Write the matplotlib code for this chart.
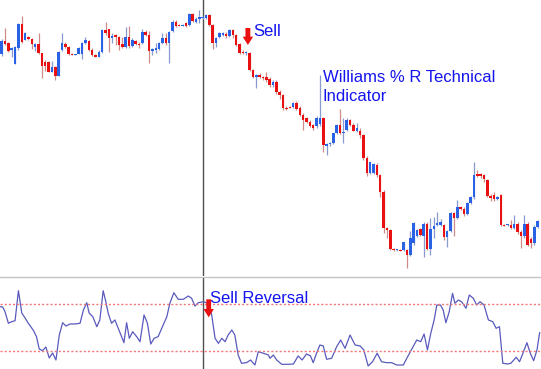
import numpy as np
import matplotlib
matplotlib.use('Agg')
import matplotlib.pyplot as plt

# candles, as distance down from the top edge (px)
opens = [54, 41, 43, 50, 64, 48, 24, 40, 37, 39, 47, 44, 53, 62, 62, 72, 67, 76, 50, 44,
         47, 54, 54.5, 54, 54, 43, 41, 50, 55, 57, 52, 30, 29, 38, 35, 37, 44, 47, 37, 46,
         41, 44, 43, 32, 35, 51, 50, 49, 43, 38, 43, 31, 22, 25, 25.5, 23, 25, 14, 22, 19,
         18, 18, 15, 25, 43, 37, 35, 34, 36, 30, 35, 44, 52, 53, 53, 70, 77, 75, 77, 77,
         79, 85, 82, 92, 95, 108, 107, 107, 103, 108, 115, 118, 122, 125, 126, 124, 118, 146, 144, 143,
         133, 125, 133, 130, 120, 125, 131, 131, 135, 158, 173, 173, 165, 175, 192, 228, 230, 249, 250, 250,
         250, 250, 255, 243, 236, 229, 236, 224, 249, 229, 225, 225, 225, 237, 231, 213, 218, 207, 209, 214,
         203, 197, 174, 174, 175, 180, 196, 195, 199, 195, 225, 225, 225, 228, 224, 232, 236, 224, 239, 243,
         227]
highs = [39, 28, 42, 47, 46, 23, 16, 32, 36, 38, 43, 33, 53, 60, 61, 61, 66, 51, 33, 42,
         46, 53, 54, 47, 42, 37, 40, 48, 54, 50, 29, 22, 29, 33, 34, 36, 37, 27, 26, 38,
         40, 42, 29, 30, 31, 48, 43, 42, 33, 33, 31, 20, 20, 24, 24, 22, 13, 13, 17, 10,
         16, 14, 14, 24, 37, 32, 32, 32, 29, 29, 34, 43, 50, 51, 52, 69, 74, 73, 76, 72,
         77, 80, 80, 90, 94, 106, 106, 102, 101, 106, 113, 117, 120, 124, 116, 75, 117, 143, 142, 141,
         124, 109, 118, 118, 119, 123, 123, 128, 134, 156, 162, 163, 163, 174, 190, 227, 229, 248, 249, 249,
         242, 249, 231, 222, 229, 228, 222, 222, 218, 217, 212, 219, 224, 230, 212, 212, 200, 206, 207, 202,
         196, 162, 170, 173, 174, 179, 194, 192, 196, 194, 224, 224, 220, 215, 222, 230, 215, 222, 237, 225,
         220]
lows = [56, 45, 52, 57, 64, 50, 43, 40, 40, 49, 51, 54, 78, 71, 72, 72, 80, 76, 51, 48,
        55, 55, 55, 54, 59, 44, 51, 56, 57, 57, 53, 35, 52, 43, 45, 50, 48, 48, 48, 47,
        45, 48, 44, 36, 63, 55, 53, 50, 44, 45, 63, 32, 27, 26, 26, 27, 26, 22, 23, 23,
        19, 19, 26, 49, 47, 38, 36, 38, 37, 38, 46, 54, 54, 55, 71, 78, 88, 78, 80, 82,
        87, 87, 94, 99, 110, 110, 108, 108, 110, 116, 130, 123, 127, 130, 128, 126, 152, 155, 146, 144,
        134, 134, 143, 131, 126, 131, 132, 138, 160, 176, 174, 174, 177, 197, 233, 238, 250, 251, 251, 251,
        251, 268, 256, 245, 237, 236, 257, 250, 255, 238, 226, 226, 240, 247, 232, 236, 219, 210, 216, 215,
        204, 199, 177, 178, 182, 197, 201, 201, 200, 226, 226, 226, 229, 229, 234, 248, 238, 246, 248, 245,
        228]
closes = [41, 44, 51, 48, 47, 24, 42, 33, 39, 44, 44, 53, 66, 66, 72, 67, 76, 52, 43, 47,
          54, 54.5, 54, 48, 43, 40, 50, 55, 57, 52, 30, 33, 38, 36, 37, 45, 47, 37, 46, 40,
          44, 45, 32, 35, 51, 49, 48, 43, 38, 43, 32, 22, 26, 25.5, 25, 26, 14, 21, 19, 17,
          17, 15, 25, 43, 38, 33, 33, 36, 30, 35, 45, 53, 53, 52, 70, 77, 75, 77, 78, 80,
          85, 82, 92, 95, 108, 108.5, 107.5, 103, 109, 115, 120, 122, 126, 128, 118, 118, 145, 144, 143, 133,
          125, 133, 132, 120, 125, 131, 128, 135, 158, 173, 162, 164, 175, 192, 228, 230, 249, 250, 249.5, 250.5,
          242, 255, 238, 223, 230, 235, 224, 249, 229, 226, 223, 222, 237, 231, 213, 218, 207, 209, 214, 203,
          197, 175, 176, 176, 179, 196, 198, 199, 197, 225, 225.5, 225, 228, 224, 232, 236, 224, 245, 243, 227,
          221]
top_px = 280  # chart level at the top edge

# Williams %R line, bar position and value
wpr_bar = [-0.5, 0.3, 1.0, 2.0, 3.0, 4.0, 5.0, 6.0, 7.0, 7.9, 9.4, 10.4, 11.2, 12.2, 13.2, 14.2,
           15.2, 16.2, 17.2, 18.2, 19.2, 20.4, 21.9, 23.4, 24.4, 25.4, 26.1, 27.2, 28.4, 29.3,
           30.3, 31.1, 31.8, 32.8, 33.8, 34.8, 35.8, 36.5, 37.3, 38.1, 39.1, 40.3, 41.3, 42.5,
           43.5, 44.5, 45.5, 46.7, 48.2, 49.3, 50.2, 51.4, 52.7, 54.2, 55.7, 56.7, 57.7, 58.7,
           60.2, 61.7, 62.7, 63.7, 64.7, 65.7, 66.7, 67.6, 68.7, 69.6, 70.6, 71.6, 73.1, 74.3,
           75.6, 76.6, 78.1, 79.6, 80.1, 81.1, 82.1, 83.6, 85.6, 87.1, 88.5, 89.7, 91.0, 92.2,
           93.0, 94.0, 95.0, 96.0, 97.0, 98.5, 100.0, 101.2, 102.5, 104.0, 105.5, 107.0, 108.1,
           109.4, 110.7, 112.1, 113.4, 114.9, 116.4, 117.9, 119.9, 121.1, 122.4, 123.9, 125.1,
           126.1, 127.1, 128.1, 129.1, 129.9, 131.0, 131.8, 132.6, 133.6, 134.6, 135.3, 136.3,
           137.3, 138.6, 139.6, 140.8, 141.8, 142.8, 144.0, 145.3, 146.6, 147.6, 148.6, 149.6,
           151.0, 152.0, 153.6, 154.6, 155.6, 156.8, 157.8, 158.8, 159.8, 160.6]
wpr_val = [-23.4, -23.8, -29.8, -44.6, -42.6, -41.3, -3.0, -31.5, -37.9, -44.3, -53.2, -61.7,
           -77.4, -79.6, -74.9, -88.9, -82.6, -91.5, -59.6, -43.9, -48.1, -45.5, -45.5, -44.6,
           -27.7, -18.3, -31.5, -36.2, -49.0, -40.4, -3.0, -17.1, -31.9, -44.6, -40.4, -51.0,
           -61.7, -69.4, -43.9, -63.8, -55.4, -61.7, -68.1, -34.0, -44.6, -71.1, -63.8, -61.7,
           -46.8, -36.2, -19.1, -5.6, -14.0, -14.0, -9.8, -12.7, -22.6, -18.3, -17.1, -19.1,
           -34.0, -63.8, -70.2, -63.8, -68.1, -59.6, -53.2, -59.6, -85.1, -95.7, -94.9, -91.5,
           -97.9, -80.9, -82.9, -85.1, -89.3, -85.1, -91.5, -97.0, -97.0, -96.6, -86.4, -91.5,
           -83.8, -86.4, -94.9, -82.9, -72.3, -73.6, -90.6, -89.3, -74.5, -66.0, -76.6, -59.6,
           -72.3, -73.6, -78.7, -99.1, -93.7, -82.9, -93.7, -94.9, -94.9, -97.9, -97.9, -88.0,
           -77.8, -66.0, -68.1, -58.3, -78.7, -57.4, -40.4, -21.3, -21.3, -27.7, -43.9, -29.8,
           -6.3, -19.1, -14.9, -17.1, -25.5, -8.5, -12.7, -21.3, -17.1, -21.3, -40.4, -42.6,
           -51.0, -49.0, -95.7, -96.6, -95.7, -88.0, -93.7, -82.9, -69.4, -82.9, -92.4, -78.7,
           -56.6]
wpr_levels = [-20, -80]
cross_bar = 60

BLUE = '#2a62e6'
RED = '#e81010'
TXT = '#1414f0'

o = top_px - np.array(opens, float)
h = top_px - np.array(highs, float)
l = top_px - np.array(lows, float)
c = top_px - np.array(closes, float)
x = np.arange(len(o))
up = c >= o

fig = plt.figure(figsize=(5.41, 3.69), dpi=100)
ax = fig.add_axes([0, 1 - 276 / 369, 1, 276 / 369])
ax2 = fig.add_axes([0, 0, 1, 92 / 369])

# candles
ax.vlines(x[up], l[up], h[up], color='#8a9ad0', lw=0.9, zorder=1)
ax.vlines(x[~up], l[~up], h[~up], color='#d08a8a', lw=0.9, zorder=1)
body = np.maximum(np.abs(c - o), 0.8)
ax.bar(x[up], body[up], bottom=np.minimum(o, c)[up], width=0.75, color=BLUE, lw=0, zorder=2)
ax.bar(x[~up], body[~up], bottom=np.minimum(o, c)[~up], width=0.75, color=RED, lw=0, zorder=2)

ax.set_xlim(-0.5, 161)
ax.set_ylim(4, top_px)
ax.axvline(cross_bar, color='#505050', lw=1, zorder=0)
ax.axis('off')

ax.text(75, 249, 'Sell', color=TXT, fontsize=12, family='Liberation Sans', va='center')
ax.text(95.9, 210, 'Williams % R Technical\nIndicator', color=TXT, fontsize=12,
        family='Liberation Sans', va='top', linespacing=1.3)
ax.annotate('', xy=(73.5, 235), xytext=(73.5, 252),
            arrowprops=dict(arrowstyle='simple,head_length=0.6,head_width=0.75,tail_width=0.35',
                            color=RED, lw=0, shrinkA=0, shrinkB=0))

# Williams %R
ax2.plot(wpr_bar, wpr_val, color='#5a5abe', lw=0.9)
for lev in wpr_levels:
    ax2.axhline(lev, color='#f07878', lw=1, ls=(0, (1.5, 1.5)))
ax2.axvline(cross_bar, color='#505050', lw=1, zorder=0)
ax2.set_xlim(-0.5, 161)
ax2.set_ylim(-103, 14.5)
ax2.set_xticks([])
ax2.set_yticks([])
for s in ['left', 'right', 'bottom']:
    ax2.spines[s].set_visible(False)
ax2.spines['top'].set_color('#c4c4c4')
ax2.spines['top'].set_linewidth(1)

ax2.text(62.3, -13, 'Sell Reversal', color=TXT, fontsize=12, family='Liberation Sans', va='center')
ax2.annotate('', xy=(61.8, -37), xytext=(61.8, -14),
             arrowprops=dict(arrowstyle='simple,head_length=0.6,head_width=0.75,tail_width=0.35',
                             color=RED, lw=0, shrinkA=0, shrinkB=0))

fig.savefig('out.png', dpi=100)
